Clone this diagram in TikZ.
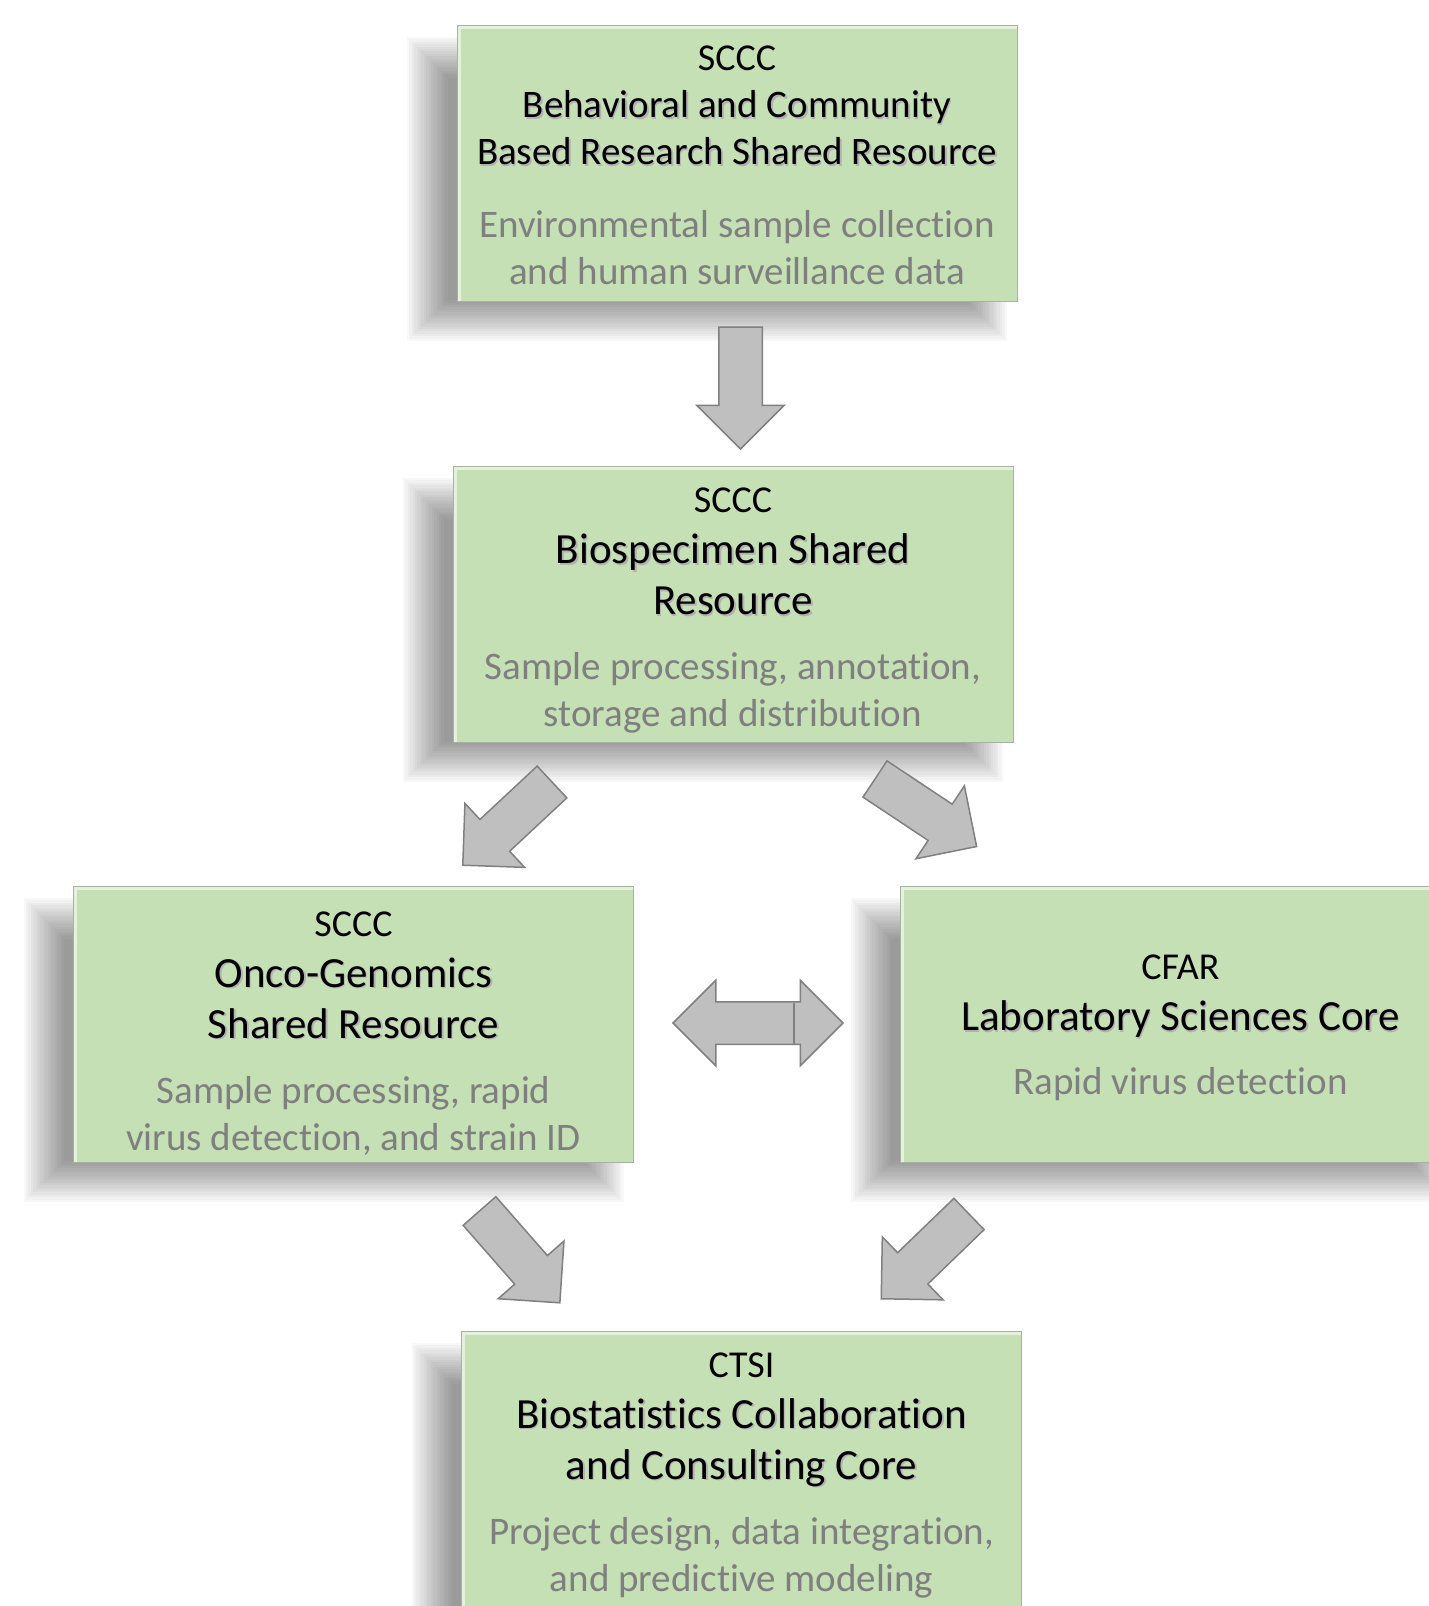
\documentclass[tikz,border=0pt]{standalone}
\usepackage{fontspec}
\setmainfont{Carlito}[Ligatures=CommonOff]
\usetikzlibrary{shapes.arrows,positioning,calc,backgrounds}

\definecolor{boxgreen}{RGB}{197,224,180}
\definecolor{boxedge}{RGB}{168,178,162}
\definecolor{notegray}{RGB}{127,127,127}
\definecolor{arrowfill}{RGB}{191,191,191}
\definecolor{arrowedge}{RGB}{128,128,128}

% title lines carry a soft text shadow
\newcommand{\boxtitle}[2][43]{{\fontsize{#1}{51}\selectfont\rlap{\kern1.5pt\raisebox{-1.5pt}{\color{black!30}#2}}#2}}
\newcommand{\boxnote}[1]{{\fontsize{39}{47}\selectfont\color{notegray}#1}}

\begin{document}
\begin{tikzpicture}[x=1pt,y=-1pt,
  core/.style={draw=boxedge, line width=1pt, fill=boxgreen, minimum width=560pt, minimum height=276pt,
    inner sep=0pt, outer sep=0pt, align=center, font=\fontsize{38}{51}\selectfont,
    path picture={\draw[white!55!boxgreen, line width=7pt] (path picture bounding box.south west) -- (path picture bounding box.north west) -- (path picture bounding box.north east);}},
  flow/.style={single arrow, draw=arrowedge, fill=arrowfill, line width=1.5pt, minimum height=122pt,
    inner xsep=0pt, inner ysep=21pt, outer sep=0pt, single arrow head extend=22pt,
    single arrow tip angle=90, anchor=tail},
  swap/.style={double arrow, draw=arrowedge, fill=arrowfill, line width=1.5pt, minimum height=170pt,
    inner xsep=0pt, inner ysep=20.5pt, outer sep=0pt, double arrow head extend=21.5pt,
    double arrow tip angle=90}]
\useasboundingbox (0,0) rectangle (1429,1606);

% Cores (the empty first row pushes the text down a little)
\node[core, font=\fontsize{38}{47}\selectfont] (behav) at (737,163) {\\[-17pt]SCCC\\ \boxtitle[39]{Behavioral and Community}\\ \boxtitle[39]{Based Research Shared Resource}\\[26pt] \boxnote{Environmental sample collection}\\ \boxnote{and human surveillance data}};
\node[core, below=165pt of behav, xshift=-4pt] (bio) {\\[-13pt]SCCC\\ \boxtitle{Biospecimen Shared}\\ \boxtitle{Resource}\\[14pt] \boxnote{Sample processing, annotation,}\\[-4pt] \boxnote{storage and distribution}};
\node[core] (onco) at (353.5,1024) {\\[-8pt]SCCC\\ \boxtitle{Onco-Genomics}\\ \boxtitle{Shared Resource}\\[14pt] \boxnote{Sample processing, rapid}\\[-4pt] \boxnote{virus detection, and strain ID}};
\node[core, right=267pt of onco] (cfar) {\\[-18pt]CFAR\\ \boxtitle{Laboratory Sciences Core}\\[13pt] \boxnote{Rapid virus detection}};
\node[core] (ctsi) at (741.5,1469) {\\[-14pt]CTSI\\ \boxtitle{Biostatistics Collaboration}\\ \boxtitle{and Consulting Core}\\[14pt] \boxnote{Project design, data integration,}\\[-4pt] \boxnote{and predictive modeling}};

% Shadows
\begin{scope}[on background layer]
\foreach \b in {behav,bio,onco,cfar,ctsi}
  \foreach \k in {0,...,17}
    \fill[black, opacity=0.027] ($(\b.north west)+(-50+2.4*\k,12+2.4*\k)$) rectangle ($(\b.south east)+(-10-2.4*\k,40-2.4*\k)$);
\end{scope}

% Arrows
\node[flow, rotate=-90] (down) at ($(behav.south)+(3.5,26)$) {};
\node[flow, rotate=223] (toonco) at ($(bio.south)+(-181,40)$) {};
\node[flow, rotate=-33.6] (tocfar) at ($(bio.south)+(142,37)$) {};
\node[flow, rotate=-48.8] (fromonco) at ($(onco.south)+(126,49)$) {};
\node[flow, rotate=224] (fromcfar) at ($(cfar.south)+(-211.5,52)$) {};
\node[swap] (link) at ($(onco.east)!0.5!(cfar.west)+(-9,-1)$) {};
\draw[arrowedge, line width=1.5pt] ($(link.center)+(36,-20.5)$) -- ($(link.center)+(36,20.5)$);

\end{tikzpicture}
\end{document}
